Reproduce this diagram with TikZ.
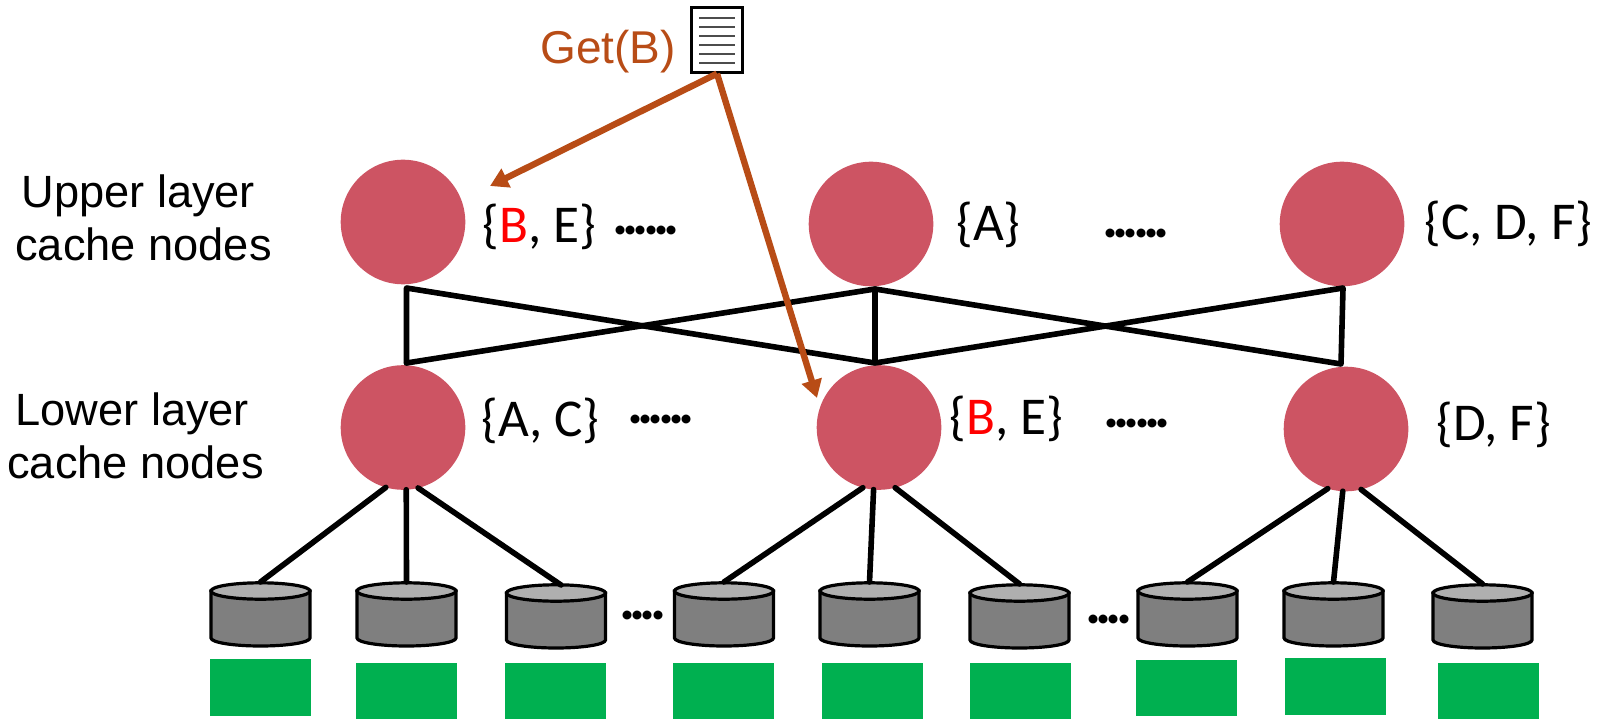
\documentclass[tikz,border=0pt]{standalone}
\usepackage{fontspec}
\setmainfont{Liberation Sans}
\newfontfamily\calib{Carlito}
\usetikzlibrary{arrows.meta}
\definecolor{cacheRed}{RGB}{205,84,99}
\definecolor{getOrange}{RGB}{184,76,22}
\definecolor{storeGreen}{RGB}{0,176,80}
\definecolor{diskBody}{RGB}{127,127,127}
\definecolor{diskTop}{RGB}{175,175,175}
\tikzset{
  x=0.5pt,y=-0.5pt,
  cachenode/.style={circle,fill=cacheRed,minimum size=62.3pt,inner sep=0pt,outer sep=0pt},
  link/.style={line width=2.8pt,black,line cap=round,line join=round},
  reqarrow/.style={line width=3.2pt,getOrange,-{Triangle[length=9pt,width=10pt]}},
  disk/.style={line width=1.6pt,black},
  store/.style={fill=storeGreen,minimum width=50.5pt,minimum height=28.2pt,inner sep=0pt,outer sep=0pt},
  setlabel/.style={anchor=base west,inner sep=0pt,font=\calib\fontsize{26.6}{30}\selectfont},
  dotlabel/.style={anchor=base west,inner sep=0pt,font=\calib\bfseries\fontsize{30}{30}\selectfont},
  layerlabel/.style={align=left,anchor=west,inner sep=0pt,font=\fontsize{22.6}{26.4}\selectfont},
}
\newcommand{\dsk}[3]{%
  \begin{scope}[shift={(#2,#3)}]
    \coordinate (#1) at (0,0);
    \draw[disk,fill=diskBody] (-49.5,9) -- (-49.5,56) arc[start angle=180,end angle=360,x radius=24.75pt,y radius=4pt] -- (49.5,9) -- cycle;
    \draw[disk,fill=diskTop] (0,9) ellipse[x radius=24.75pt,y radius=4.1pt];
  \end{scope}}
\newcommand{\redB}{\textcolor{red}{B}}
\newcommand{\dt}{.\kern-2.9pt}
\begin{document}
\begin{tikzpicture}
\useasboundingbox (0,0) rectangle (1598,721);

% cache nodes
\node[cachenode] (u1) at (403,222) {};
\node[cachenode] (u2) at (871,224) {};
\node[cachenode] (u3) at (1342,224) {};
\node[cachenode] (l1) at (403,427.5) {};
\node[cachenode] (l2) at (879,427.5) {};
\node[cachenode] (l3) at (1346,429) {};

% disks
\dsk{d1}{260.5}{582}
\dsk{d2}{406.5}{582}
\dsk{d3}{556}{584}
\dsk{d4}{724}{582}
\dsk{d5}{869.5}{582}
\dsk{d6}{1019.5}{584}
\dsk{d7}{1187.5}{582}
\dsk{d8}{1333.5}{582}
\dsk{d9}{1482.5}{584}

% storage
\node[store] (s1) at (260.5,687.5) {};
\node[store] (s2) at (406.5,691) {};
\node[store] (s3) at (555,691) {};
\node[store] (s4) at (723.5,691) {};
\node[store] (s5) at (872.5,691) {};
\node[store] (s6) at (1020.5,691) {};
\node[store] (s7) at (1186.5,688) {};
\node[store] (s8) at (1335,686.5) {};
\node[store] (s9) at (1488.5,691) {};

% links between layers
\coordinate (a1) at (406.5,288);
\coordinate (a2) at (875,289);
\coordinate (a3) at (1343,288);
\coordinate (b1) at (406.5,363);
\coordinate (b2) at (875,363);
\coordinate (b3) at (1341,364);
\draw[link] (b1) -- (a1) -- (b2) -- (a2) -- (b3) -- (a3) -- (b2);
\draw[link] (a2) -- (b1);

% links to disks
\coordinate (d3e) at (561,585);
\draw[link] (l1.254) -- (d1);
\draw[link] (l1.273) -- (d2);
\draw[link] (l1.284) -- (d3e);
\draw[link] (l2.255) -- (d4);
\draw[link] (l2.265) -- (d5);
\draw[link] (l2.285) -- (d6);
\draw[link] (l3.253) -- (d7);
\draw[link] (l3.267) -- (d8);
\draw[link] (l3.284) -- (d9);

% document
\node[draw=black,line width=1.2pt,fill=white,minimum width=25.5pt,minimum height=32.5pt,inner sep=0pt] (doc) at (717,40) {};
\foreach \yy in {18,27,36,45,54,63}
  \draw[line width=0.6pt,black!70] (699,\yy) -- (735,\yy);

% request arrows
\coordinate (t1) at (490,186);
\coordinate (t2) at (817,398);
\draw[reqarrow] (doc.south) -- (t1);
\draw[reqarrow] (doc.south) -- (t2);

% text
\node[anchor=base west,inner sep=0pt,text=getOrange,font=\fontsize{23}{28}\selectfont] (get) at (540,64) {Get(B)};
\node[layerlabel] (upper) at (15,218) {\hspace{3pt}Upper layer\\cache nodes};
\node[layerlabel] (lower) at (7,436) {\hspace{4pt}Lower layer\\cache nodes};

\node[setlabel] (t11) at (482,243) {\{\redB, E\}};
\node[setlabel] (t12) at (956,241) {\{A\}};
\node[setlabel] (t13) at (1424,240) {\{C, D, F\}};
\node[setlabel] (t21) at (481,436) {\{A, C\}};
\node[setlabel] (t22) at (949,434) {\{\redB, E\}};
\node[setlabel] (t23) at (1436,440) {\{D, F\}};

\node[dotlabel] (e1) at (612,235) {\dt\dt\dt\dt\dt\dt};
\node[dotlabel] (e2) at (1102,238) {\dt\dt\dt\dt\dt\dt};
\node[dotlabel] (e3) at (627,423) {\dt\dt\dt\dt\dt\dt};
\node[dotlabel] (e4) at (1103,427) {\dt\dt\dt\dt\dt\dt};
\node[dotlabel] (e5) at (619,619) {\dt\dt\dt\dt};
\node[dotlabel] (e6) at (1085,623) {\dt\dt\dt\dt};
\end{tikzpicture}
\end{document}
